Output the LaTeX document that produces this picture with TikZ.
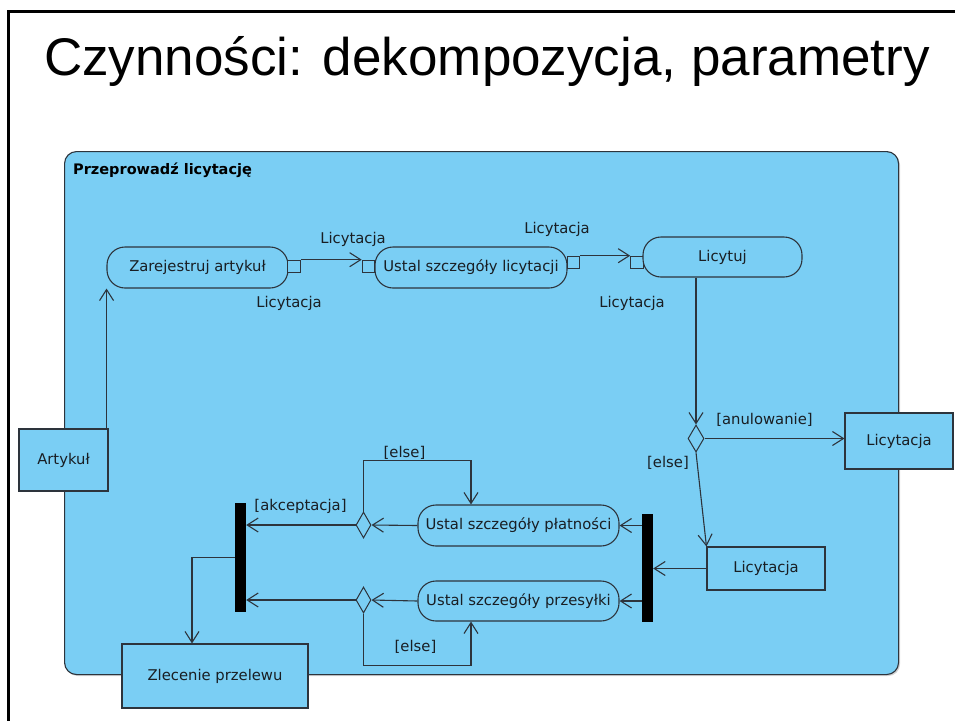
\documentclass[tikz,border=0pt]{standalone}
\usepackage{fontspec}
\setmainfont{DejaVu Sans}
\newfontfamily\titlefont{Liberation Sans}
\usetikzlibrary{arrows.meta,shapes.geometric,shadows,calc}
\definecolor{actfill}{RGB}{122,206,244}
\definecolor{edge}{RGB}{45,52,60}
\definecolor{ink}{RGB}{25,30,35}
\begin{document}
\begin{tikzpicture}[x=1pt,y=-1pt,
  every node/.style={font=\fontsize{14.8}{17}\selectfont, text=ink},
  action/.style={draw=edge, line width=1.1pt, fill=actfill, rounded corners=18pt, inner sep=0pt},
  objbox/.style={draw=edge, line width=1.1pt, fill=actfill, inner sep=0pt},
  pinbox/.style={draw=edge, line width=1.1pt, fill=actfill, minimum size=12.5pt, inner sep=0pt},
  choice/.style={draw=edge, line width=1pt, fill=actfill, diamond, inner sep=0pt},
  forkbar/.style={fill=black, inner sep=0pt},
  flow/.style={draw=edge, line width=1.1pt, -{Straight Barb[length=11pt,width=14pt]}},
  lbl/.style={anchor=base, inner sep=0pt}
]
\useasboundingbox (0,0) rectangle (955,721);

% slide frame and heading
\draw[line width=3pt] (955,11) -- (8,11) -- (8,721);
\node[anchor=base west, inner sep=0pt, text=black,
      font=\titlefont\fontsize{53}{60}\selectfont] (title) at (44,75)
  {Czynności: dekompozycja, parametry};

% activity frame
\node[draw=edge, line width=1.1pt, fill=actfill, rounded corners=12pt,
      minimum width=834pt, minimum height=523pt, anchor=north west,
      drop shadow={shadow xshift=1.5pt, shadow yshift=-1.5pt, opacity=0.35}] (act) at (64,151) {};
\node[anchor=base west, inner sep=0pt, font=\bfseries\fontsize{14.5}{17}\selectfont, text=black]
  (acttitle) at (73,174) {Przeprowadź licytację};

% actions with pins
\node[action, minimum width=181pt, minimum height=41pt] (za) at (197.5,267.5) {Zarejestruj artykuł};
\node[pinbox] (p1) at (294,266.5) {};
\node[pinbox] (p2) at (368.5,266.5) {};
\node[action, minimum width=192pt, minimum height=41pt] (us) at (471,267.5) {Ustal szczegóły licytacji};
\node[pinbox] (p3) at (573.5,262.5) {};
\node[pinbox] (p4) at (637,262.5) {};
\node[action, minimum width=159pt, minimum height=40pt] (li) at (722.5,257) {Licytuj};

\node[lbl] (l1) at (353,243) {Licytacja};
\node[lbl] (l2) at (289,307) {Licytacja};
\node[lbl] (l3) at (557,233) {Licytacja};
\node[lbl] (l4) at (632,307) {Licytacja};

% decision after bidding
\node[choice, minimum width=16pt, minimum height=27pt] (d0) at (696,438.5) {};
\node[objbox, minimum width=108pt, minimum height=56pt] (lic1) at (899,441) {Licytacja};
\node[objbox, minimum width=118pt, minimum height=43pt] (lic2) at (766,568.5) {Licytacja};
\node[lbl] (anul) at (764.5,424) {[anulowanie]};
\node[lbl] (else0) at (668,467) {[else]};

% fork, parallel actions, join
\node[forkbar, minimum width=11pt, minimum height=108pt] (bar2) at (647.5,568) {};
\node[action, minimum width=201pt, minimum height=41pt] (pl) at (518.5,525.5) {Ustal szczegóły płatności};
\node[action, minimum width=201pt, minimum height=40pt] (pr) at (518.5,601) {Ustal szczegóły przesyłki};
\node[choice, minimum width=15pt, minimum height=26pt] (d1) at (363.5,525) {};
\node[choice, minimum width=15pt, minimum height=26pt] (d2) at (363.5,600) {};
\node[forkbar, minimum width=11pt, minimum height=109pt] (bar1) at (240.5,557.5) {};
\node[lbl] (akc) at (300.5,510) {[akceptacja]};
\node[lbl] (else1) at (404.5,457) {[else]};
\node[lbl] (else2) at (415.5,651) {[else]};

% object nodes on the frame border
\node[objbox, minimum width=89pt, minimum height=62pt] (ar) at (63.5,460) {Artykuł};
\node[objbox, minimum width=186pt, minimum height=64pt] (zl) at (215,676) {Zlecenie przelewu};

% flows
\draw[flow] ([xshift=-2pt]ar.north east) -- ([xshift=-2pt]ar.north east |- za.south);
\draw[flow] (p1.north east) -- (p2.north west);
\draw[flow] (p3.north east) -- (p4.north west);
\draw[flow] (d0.north |- li.south) -- (d0.north);
\draw[flow] (d0.east) -- (d0.east -| lic1.west);
\draw[flow] (d0.south) -- (lic2.north west);
\draw[flow] (lic2.west) -- (lic2.west -| bar2.east);
\draw[flow] (bar2.west |- pl.east) -- (pl.east);
\draw[flow] (bar2.west |- pr.east) -- (pr.east);
\draw[flow] (pl.west) -- (d1.east);
\draw[flow] (pr.west) -- (d2.east);
\draw[flow] (d1.west) -- (d1.west -| bar1.east);
\draw[flow] (d2.west) -- (d2.west -| bar1.east);
\draw[flow] (d1.north) -- ++(0,-51) -| ([xshift=-47.5pt]pl.north);
\draw[flow] (d2.south) -- ++(0,52) -| ([xshift=-47.5pt]pr.south);
\draw[flow] (bar1.west) -| ([xshift=-23pt]zl.north);
\end{tikzpicture}
\end{document}
